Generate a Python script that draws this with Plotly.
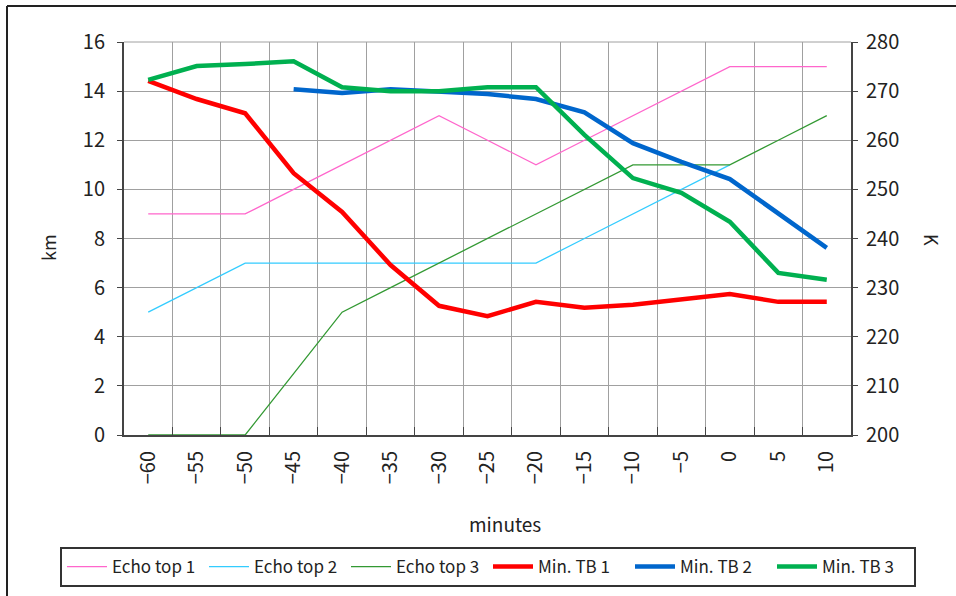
import plotly.graph_objects as go

minutes = ["−60", "−55", "−50", "−45", "−40", "−35", "−30", "−25", "−20", "−15", "−10", "−5", "0", "5", "10"]

echo_top_1 = [9, 9, 9, 10, 11, 12, 13, 12, 11, 12, 13, 14, 15, 15, 15]
echo_top_2 = [5, 6, 7, 7, 7, 7, 7, 7, 7, 8, 9, 10, 11, None, None]
echo_top_3 = [0, 0, 0, 2.5, 5, 6, 7, 8, 9, 10, 11, 11, 11, 12, 13]

min_tb_1 = [272.1, 268.4, 265.5, 253.3, 245.4, 234.6, 226.3, 224.2, 227.1, 225.9, 226.5, 227.5, 228.7, 227.1, 227.1]
min_tb_2 = [None, None, None, 270.4, 269.6, 270.4, 270.0, 269.4, 268.4, 265.7, 259.4, 255.6, 252.1, 245.2, 238.1]
min_tb_3 = [272.3, 275.1, 275.5, 276.1, 270.8, 270.0, 270.0, 270.8, 270.8, 261.1, 252.3, 249.3, 243.4, 233.0, 231.6]

FONT = "Noto Sans CJK JP, Noto Sans, sans-serif"

fig = go.Figure()
thin = [("Echo top 1", echo_top_1, "#ff66cc"),
        ("Echo top 2", echo_top_2, "#33ccff"),
        ("Echo top 3", echo_top_3, "#339933")]
for name, ys, col in thin:
    fig.add_trace(go.Scatter(x=minutes, y=ys, name=name, mode="lines",
                             line=dict(color=col, width=1.3), yaxis="y"))
thick = [("Min. TB 1", min_tb_1, "#ff0000"),
         ("Min. TB 2", min_tb_2, "#0066cc"),
         ("Min. TB 3", min_tb_3, "#00b050")]
for name, ys, col in thick:
    fig.add_trace(go.Scatter(x=minutes, y=ys, name=name, mode="lines",
                             line=dict(color=col, width=4.5), yaxis="y2"))

L, R, T, B = 124, 851, 42, 435
W, H = 956, 596
pw, ph = R - L, B - T

def px(x):
    return (x - L) / pw

def py(y):
    return (B - y) / ph

fig.update_layout(
    width=W, height=H,
    margin=dict(l=L, r=W - R, t=T, b=H - B, autoexpand=False),
    paper_bgcolor="white", plot_bgcolor="white",
    font=dict(family=FONT, size=18, color="#222222"),
    showlegend=True,
    xaxis=dict(type="category", tickson="boundaries", tickangle=-90,
               showgrid=True, gridcolor="#a0a0a0", gridwidth=1,
               showline=True, linecolor="#444444", linewidth=2,
               ticks="inside", ticklen=8, tickcolor="#444444",
               tickfont=dict(size=20), range=[-0.5, 14.5], zeroline=False,
               ticklabelstandoff=6, automargin=False),
    yaxis=dict(range=[0, 16], dtick=2, showgrid=True, gridcolor="#a0a0a0",
               showline=True, linecolor="#444444", linewidth=2,
               ticks="outside", ticklen=5, tickcolor="#444444",
               tickfont=dict(size=20), zeroline=False, mirror=False,
               ticklabelstandoff=8, automargin=False),
    yaxis2=dict(range=[200, 280], dtick=10, overlaying="y", side="right",
                showgrid=False, showline=True, linecolor="#444444", linewidth=2,
                ticks="outside", ticklen=5, tickcolor="#444444",
                tickfont=dict(size=20), zeroline=False, ticklabelstandoff=4,
                automargin=False),
    legend=dict(orientation="h", x=px(60), y=py(547), xanchor="left", yanchor="top",
                bordercolor="#333333", borderwidth=2, bgcolor="white",
                font=dict(size=17), entrywidth=87, entrywidthmode="pixels",
                itemwidth=40, tracegroupgap=0),
    shapes=[
        dict(type="line", xref="paper", yref="paper", x0=px(7), x1=px(1000), y0=py(6), y1=py(6),
             line=dict(color="#222222", width=2)),
        dict(type="line", xref="paper", yref="paper", x0=px(7), x1=px(7), y0=py(6), y1=py(620),
             line=dict(color="#222222", width=2)),
        dict(type="line", xref="paper", yref="paper", x0=0, x1=1, y0=1, y1=1,
             line=dict(color="#a0a0a0", width=1)),
    ],
    annotations=[
        dict(text="km", xref="paper", yref="paper", x=px(48), y=py(248), showarrow=False,
             textangle=-90, font=dict(size=18), xanchor="center", yanchor="middle"),
        dict(text="K", xref="paper", yref="paper", x=px(932), y=py(240), showarrow=False,
             textangle=90, font=dict(size=18), xanchor="center", yanchor="middle"),
        dict(text="minutes", xref="paper", yref="paper", x=px(505), y=py(523), showarrow=False,
             font=dict(size=19), xanchor="center", yanchor="middle"),
    ],
)

fig.write_html("out.html", config={"displayModeBar": False},
               post_script="document.body.style.margin='0';document.body.style.padding='0';")
